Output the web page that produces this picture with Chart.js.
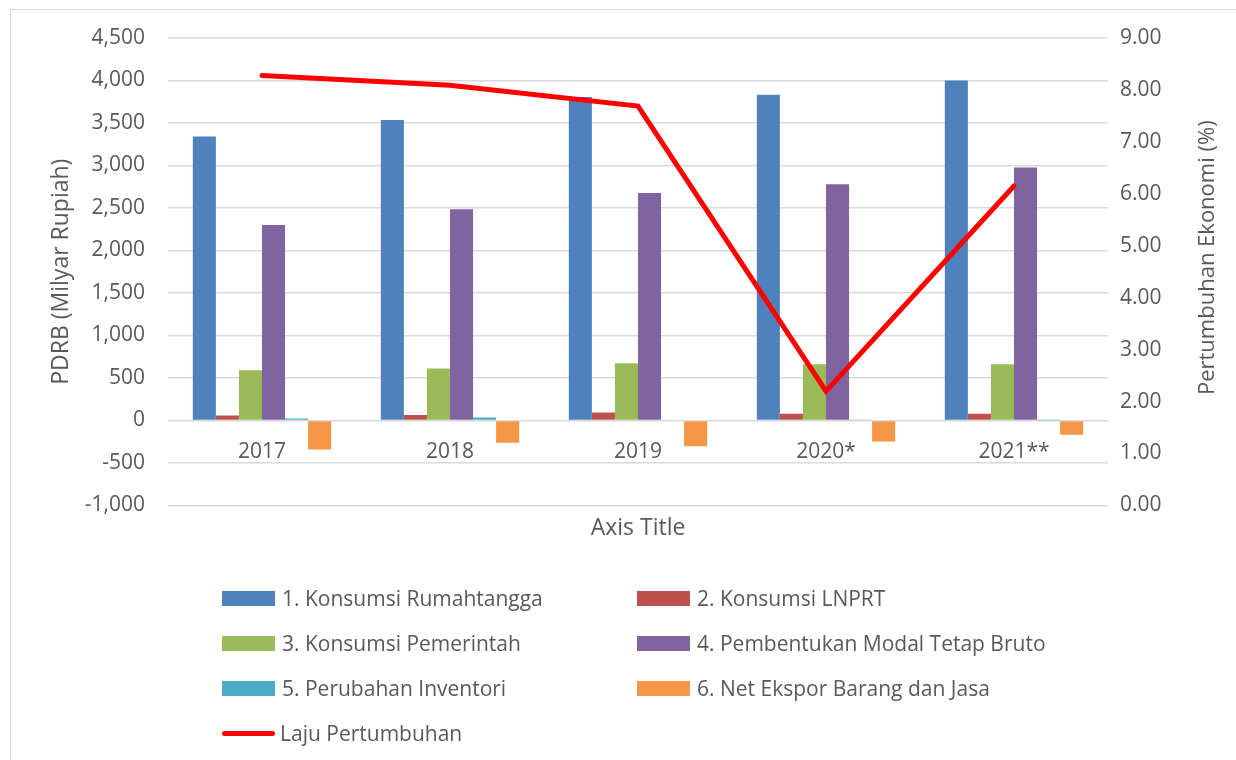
<!DOCTYPE html>
<html>
<head>
<meta charset="utf-8">
<script src="https://cdn.jsdelivr.net/npm/chart.js@4.4.0/dist/chart.umd.min.js"></script>
<style>
  body { margin: 0; background: #fff; font-family: 'Open Sans', sans-serif; }
  #wrap { position: relative; width: 1236px; height: 760px; overflow: hidden; }
  #frame { position: absolute; left: 10px; top: 9px; width: 1260px; height: 800px; border: 1px solid #d9d9d9; pointer-events: none; }
  .item { position: absolute; display: flex; align-items: center; height: 24px; color: #595959; font-size: 21px; white-space: nowrap; }
  .sw { width: 53px; height: 15px; margin-right: 7px; }
  .ln { width: 53px; height: 5px; margin-right: 5px; border-radius: 3px; }
</style>
</head>
<body>
<div id="wrap">
  <canvas id="chart" width="1236" height="760"></canvas>
  <div id="frame"></div>
  <div id="legend"></div>
</div>
<script>
// data
const years = ['2017', '2018', '2019', '2020*', '2021**'];
const konsumsiRT = [3340, 3534, 3805, 3833, 4001];
const konsumsiLNPRT = [59, 63, 94, 79, 79];
const konsumsiPemerintah = [590, 610, 672, 660, 660];
const pmtb = [2300, 2485, 2677, 2779, 2975];
const perubahanInventori = [24, 35, 8, 6, 3];
const netEkspor = [-342, -263, -303, -248, -169];
const lajuPertumbuhan = [8.28, 8.09, 7.69, 2.2, 6.15];

const barLabels = ['1. Konsumsi Rumahtangga', '2. Konsumsi LNPRT', '3. Konsumsi Pemerintah',
  '4. Pembentukan Modal Tetap Bruto', '5. Perubahan Inventori', '6. Net Ekspor Barang dan Jasa'];
const barColors = ['#4F81BD', '#C0504D', '#9BBB59', '#8064A2', '#4BACC6', '#F79646'];
const barSeries = [konsumsiRT, konsumsiLNPRT, konsumsiPemerintah, pmtb, perubahanInventori, netEkspor];

const textColor = '#595959';
const tickFont = { family: 'Open Sans', size: 21 };
const titleFont = { family: 'Open Sans', size: 23, weight: 'normal' };

const datasets = barSeries.map((d, i) => ({
  type: 'bar',
  label: barLabels[i],
  data: d,
  backgroundColor: barColors[i],
  yAxisID: 'y',
  order: 1,
  categoryPercentage: 0.736,
  barPercentage: 1
}));
datasets.push({
  type: 'line',
  label: 'Laju Pertumbuhan',
  data: lajuPertumbuhan,
  borderColor: '#FF0000',
  backgroundColor: '#FF0000',
  borderWidth: 5,
  borderCapStyle: 'round',
  pointRadius: 0,
  tension: 0,
  yAxisID: 'y1',
  order: 0
});

// right axis title reads bottom-to-top like the left one
const rightTitle = {
  id: 'rightTitle',
  afterDraw(chart) {
    const ctx = chart.ctx;
    const area = chart.chartArea;
    ctx.save();
    ctx.translate(1208, (area.top + area.bottom) / 2 - 14);
    ctx.rotate(-Math.PI / 2);
    ctx.fillStyle = textColor;
    ctx.font = "22px 'Open Sans'";
    ctx.textAlign = 'center';
    ctx.textBaseline = 'middle';
    ctx.fillText('Pertumbuhan Ekonomi (%)', 0, 0);
    ctx.restore();
  }
};

const chart = new Chart(document.getElementById('chart'), {
  type: 'bar',
  data: { labels: years, datasets: datasets },
  options: {
    responsive: false,
    animation: false,
    layout: { padding: { left: 0, right: 0, top: 38, bottom: 218 } },
    plugins: {
      legend: { display: false },
      tooltip: { enabled: false },
      title: {
        display: true,
        text: 'Axis Title',
        position: 'bottom',
        fullSize: false,
        color: textColor,
        font: titleFont,
        padding: { top: 9, bottom: 0 }
      }
    },
    scales: {
      x: {
        position: { y: 0 },
        grid: { display: false, drawTicks: false },
        border: { display: false },
        ticks: { color: textColor, font: tickFont, padding: 19 }
      },
      y: {
        position: 'left',
        min: -1000,
        max: 4500,
        ticks: {
          stepSize: 500,
          color: textColor,
          font: tickFont,
          padding: 23,
          callback: v => v.toLocaleString('en-US')
        },
        grid: { color: '#D9D9D9', lineWidth: 1.5, drawTicks: false },
        border: { display: false },
        title: {
          display: true,
          text: 'PDRB (Milyar Rupiah)',
          color: textColor,
          font: titleFont,
          padding: { top: 48, bottom: 0 }
        },
        afterFit: s => { s.width = 168; }
      },
      y1: {
        position: 'right',
        min: 0,
        max: 9,
        ticks: {
          stepSize: 1,
          color: textColor,
          font: tickFont,
          padding: 12,
          callback: v => v.toFixed(2)
        },
        grid: { display: false, drawTicks: false },
        border: { display: false },
        afterFit: s => { s.width = 128; }
      }
    }
  },
  plugins: [rightTitle]
});

// two-column legend built from the chart's datasets
const legend = document.getElementById('legend');
const colX = [222, 637];
chart.data.datasets.forEach((ds, i) => {
  const row = Math.floor(i / 2);
  const col = i % 2;
  const item = document.createElement('div');
  item.className = 'item';
  item.style.left = colX[col] + 'px';
  item.style.top = (598 + 45 * row - 12) + 'px';
  const sw = document.createElement('span');
  sw.className = ds.type === 'line' ? 'ln' : 'sw';
  sw.style.background = ds.type === 'line' ? ds.borderColor : ds.backgroundColor;
  const txt = document.createElement('span');
  txt.textContent = ds.label;
  item.appendChild(sw);
  item.appendChild(txt);
  legend.appendChild(item);
});
</script>
</body>
</html>
